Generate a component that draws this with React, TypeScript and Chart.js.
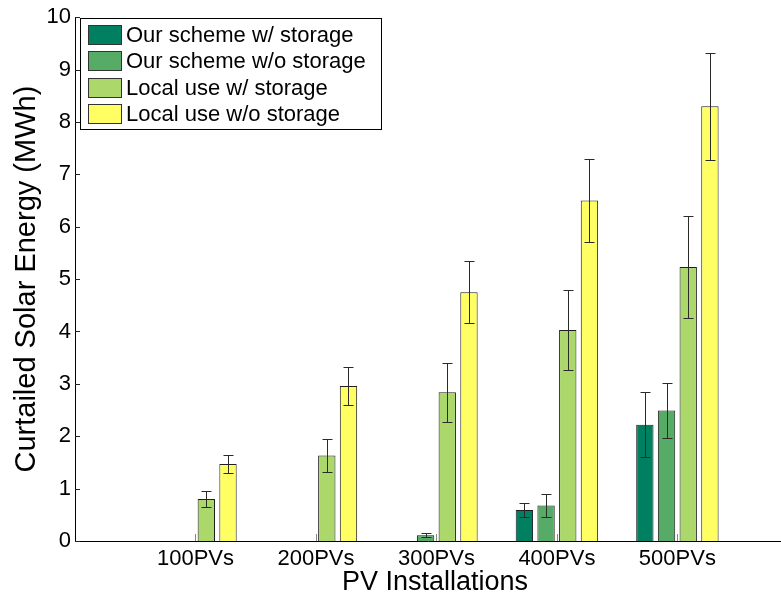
import React, { useEffect, useRef } from 'react';
import { Chart, registerables } from 'chart.js';

Chart.register(...registerables);

// ---------- data ----------
const categories = ['100PVs', '200PVs', '300PVs', '400PVs', '500PVs'];
const seriesNames = [
  'Our scheme w/ storage',
  'Our scheme w/o storage',
  'Local use w/ storage',
  'Local use w/o storage',
];
const seriesColors = ['#008060', '#56ab66', '#abd76b', '#ffff63'];

const ourWithStorage = [0, 0, 0, 0.59, 2.22];
const ourWithoutStorage = [0, 0, 0.11, 0.68, 2.49];
const localWithStorage = [0.8, 1.63, 2.84, 4.03, 5.23];
const localWithoutStorage = [1.47, 2.96, 4.75, 6.5, 8.3];

const ourWithStorageErr = [0, 0, 0, 0.13, 0.62];
const ourWithoutStorageErr = [0, 0, 0.035, 0.22, 0.52];
const localWithStorageErr = [0.16, 0.31, 0.56, 0.76, 0.98];
const localWithoutStorageErr = [0.17, 0.36, 0.59, 0.8, 1.02];

const yTicks = [0, 1, 2, 3, 4, 5, 6, 7, 8, 9, 10];
const xTitle = 'PV Installations';
const yTitle = 'Curtailed Solar Energy (MWh)';

const seriesValues = [ourWithStorage, ourWithoutStorage, localWithStorage, localWithoutStorage];
const seriesErrors = [ourWithStorageErr, ourWithoutStorageErr, localWithStorageErr, localWithoutStorageErr];

const FONT = '"Liberation Sans", Arial, Helvetica, sans-serif';

// ---------- plugins ----------
const errorBarPlugin = {
  id: 'errorBars',
  afterDatasetsDraw(chart: any) {
    const ctx = chart.ctx;
    const yScale = chart.scales.y;
    ctx.save();
    ctx.lineWidth = 1;
    seriesValues.forEach((vals, i) => {
      const meta = chart.getDatasetMeta(i);
      meta.data.forEach((el: any, j: number) => {
        const e = seriesErrors[i][j];
        if (!e) return;
        const v = vals[j];
        const x = Math.round(el.x) + 0.5;
        const top = Math.round(yScale.getPixelForValue(v + e)) + 0.5;
        const bot = Math.round(yScale.getPixelForValue(v - e)) + 0.5;
        const half = 5;
        ctx.strokeStyle = '#2a2a2a';
        ctx.beginPath();
        ctx.moveTo(x, top);
        ctx.lineTo(x, bot);
        ctx.moveTo(x - half, top);
        ctx.lineTo(x + half, top);
        ctx.moveTo(x - half, bot);
        ctx.lineTo(x + half, bot);
        ctx.stroke();
      });
    });
    ctx.restore();
  },
};

const decorPlugin = {
  id: 'decor',
  afterDraw(chart: any) {
    const ctx = chart.ctx;
    const area = chart.chartArea;
    const xScale = chart.scales.x;
    const yScale = chart.scales.y;
    ctx.save();
    // inward tick marks on y axis
    ctx.strokeStyle = '#222';
    ctx.lineWidth = 1;
    ctx.beginPath();
    yTicks.forEach((t) => {
      const y = Math.round(yScale.getPixelForValue(t)) + 0.5;
      ctx.moveTo(area.left, y);
      ctx.lineTo(area.left + 5, y);
    });
    ctx.stroke();
    // inward tick marks on x axis
    ctx.strokeStyle = '#888';
    ctx.beginPath();
    categories.forEach((_, i) => {
      const x = Math.round(xScale.getPixelForValue(i + 1)) + 0.5;
      ctx.moveTo(x, area.bottom);
      ctx.lineTo(x, area.bottom - 7);
    });
    ctx.stroke();

    // axis titles
    ctx.fillStyle = '#000';
    ctx.font = `27px ${FONT}`;
    ctx.textAlign = 'center';
    ctx.textBaseline = 'alphabetic';
    ctx.fillText(xTitle, 435, 590);

    ctx.save();
    ctx.translate(35, (area.top + area.bottom) / 2);
    ctx.rotate(-Math.PI / 2);
    ctx.font = `29px ${FONT}`;
    ctx.textAlign = 'center';
    ctx.textBaseline = 'alphabetic';
    ctx.fillText(yTitle, 0, 0);
    ctx.restore();

    // legend
    const lx = 80.5;
    const ly = 18.5;
    const lw = 301;
    const lh = 111;
    ctx.fillStyle = '#fff';
    ctx.fillRect(lx, ly, lw, lh);
    ctx.strokeStyle = '#000';
    ctx.strokeRect(lx, ly, lw, lh);
    const rows = [35, 61, 88, 114];
    ctx.font = `22px ${FONT}`;
    ctx.textAlign = 'left';
    ctx.textBaseline = 'middle';
    seriesNames.forEach((name, i) => {
      const cy = rows[i];
      ctx.fillStyle = seriesColors[i];
      ctx.fillRect(88.5, cy - 9.5, 33, 19);
      ctx.strokeStyle = '#333';
      ctx.strokeRect(88.5, cy - 9.5, 33, 19);
      ctx.fillStyle = '#000';
      ctx.fillText(name, 126, cy + 1);
    });
    ctx.restore();
  },
};

export default function App() {
  const canvasRef = useRef<HTMLCanvasElement | null>(null);

  useEffect(() => {
    const canvas = canvasRef.current;
    if (!canvas) return;
    const chart = new Chart(canvas, {
      type: 'bar',
      data: {
        datasets: seriesNames.map((name, i) => ({
          label: name,
          data: seriesValues[i].map((v, j) => ({ x: j + 1, y: v })),
          backgroundColor: seriesColors[i],
          borderColor: '#1e1e1e',
          borderWidth: 1,
          categoryPercentage: 0.72,
          barPercentage: 0.8,
        })),
      },
      options: {
        responsive: false,
        animation: false,
        events: [],
        layout: { padding: { top: 13, right: 0, left: 0, bottom: 0 } },
        plugins: {
          legend: { display: false },
          tooltip: { enabled: false },
          title: { display: false },
        },
        scales: {
          x: {
            type: 'linear',
            offset: false,
            min: 0,
            max: 5.86,
            afterFit: (s: any) => {
              s.height = 59;
            },
            grid: { display: false, drawTicks: false, offset: false },
            border: { display: true, color: '#000', width: 1 },
            ticks: {
              stepSize: 1,
              includeBounds: false,
              autoSkip: false,
              maxRotation: 0,
              padding: 5,
              color: '#000',
              font: { family: FONT, size: 22 },
              callback: (v: any) => {
                const idx = Number(v) - 1;
                return Number.isInteger(Number(v)) && categories[idx] ? categories[idx] : '';
              },
            },
          },
          y: {
            min: 0,
            max: 10,
            afterFit: (s: any) => {
              s.width = 75;
            },
            grid: { display: false, drawTicks: false },
            border: { display: true, color: '#000', width: 1 },
            ticks: {
              stepSize: 1,
              padding: 4,
              color: '#000',
              font: { family: FONT, size: 22 },
            },
          },
        },
      },
      plugins: [errorBarPlugin, decorPlugin],
    } as any);
    return () => chart.destroy();
  }, []);

  return (
    <div style={{ position: 'absolute', left: 0, top: 0, width: 781, height: 600, background: '#fff' }}>
      <canvas ref={canvasRef} width={781} height={600} style={{ display: 'block' }} />
    </div>
  );
}
